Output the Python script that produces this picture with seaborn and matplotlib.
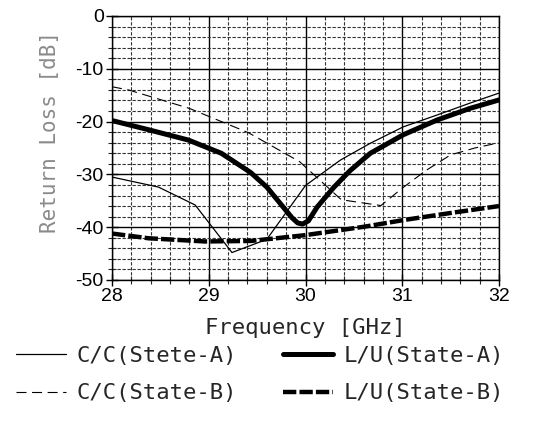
import numpy as np
import pandas as pd
import seaborn as sns
import matplotlib.pyplot as plt
from matplotlib.ticker import MultipleLocator

# C/C (Stete-A) - thin solid
cc_a_freq = [28.0, 28.48, 28.86, 29.24, 29.6, 30.0, 30.36, 30.67, 31.01, 31.36, 31.7, 32.0]
cc_a_rl = [-30.5, -32.4, -35.8, -44.8, -42.3, -32.1, -27.3, -24.1, -21.0, -18.75, -16.5, -14.6]

# C/C (State-B) - thin dashed
cc_b_freq = [28.0, 28.17, 28.8, 29.41, 29.94, 30.37, 30.78, 31.0, 31.25, 31.5, 31.75, 32.0]
cc_b_rl = [-13.4, -14.0, -17.5, -22.1, -27.6, -34.8, -35.9, -32.6, -29.2, -26.3, -25.0, -24.0]

# L/U (State-A) - thick solid
lu_a_freq = [28.0, 28.39, 28.79, 29.13, 29.43, 29.6, 29.77, 29.86, 29.92, 29.97, 30.03,
             30.12, 30.29, 30.46, 30.67, 31.01, 31.36, 31.7, 32.0]
lu_a_rl = [-19.8, -21.6, -23.5, -26.0, -29.6, -32.4, -36.2, -38.2, -39.2, -39.4, -38.8,
           -36.2, -32.5, -29.3, -26.0, -22.5, -19.7, -17.5, -15.9]

# L/U (State-B) - thick dashed
lu_b_freq = [28.0, 28.38, 28.96, 29.44, 30.0, 30.61, 31.03, 31.54, 32.0]
lu_b_rl = [-41.2, -42.1, -42.7, -42.6, -41.5, -39.9, -38.6, -37.2, -36.0]

labels = ["C/C(Stete-A)", "C/C(State-B)", "L/U(State-A)", "L/U(State-B)"]

sns.set_style("white")
plt.rcParams['font.family'] = ['Liberation Sans', 'DejaVu Sans']
plt.rcParams['axes.unicode_minus'] = False

fig = plt.figure(figsize=(5.39, 4.25), dpi=100)
ax = fig.add_axes([112 / 539, 1 - 280 / 425, 387 / 539, 264 / 425])

series = [
    (cc_a_freq, cc_a_rl, 0.9, '-'),
    (cc_b_freq, cc_b_rl, 0.8, (0, (9, 5))),
    (lu_a_freq, lu_a_rl, 3.6, '-'),
    (lu_b_freq, lu_b_rl, 3.2, (0, (3.0, 0.7))),
]
for (fx, fy, lw, ls), lab in zip(series, labels):
    d = pd.DataFrame({"f": fx, "rl": fy})
    sns.lineplot(data=d, x="f", y="rl", ax=ax, color="black", linewidth=lw,
                 linestyle=ls, label=lab, sort=False, zorder=3)

ax.set_xlim(28, 32)
ax.set_ylim(-50, 0)
ax.xaxis.set_major_locator(MultipleLocator(1))
ax.xaxis.set_minor_locator(MultipleLocator(0.2))
ax.yaxis.set_major_locator(MultipleLocator(10))
ax.yaxis.set_minor_locator(MultipleLocator(2))
ax.grid(which='major', color='black', linewidth=1.0, linestyle='-')
ax.grid(which='minor', color='#333333', linewidth=0.8, linestyle=(0, (3, 1.5)))
ax.set_axisbelow(True)
for s in ax.spines.values():
    s.set_color('black')
    s.set_linewidth(1.0)

ax.tick_params(which='major', direction='inout', length=8, width=1, labelsize=14,
               colors='black', left=True, bottom=True, pad=2)
ax.tick_params(which='minor', direction='inout', length=6, width=0.8,
               left=True, bottom=True)

ax.set_xlabel("Frequency [GHz]", family='DejaVu Sans Mono', fontsize=16, labelpad=9)
ax.set_ylabel("Return Loss [dB]", family='DejaVu Sans Mono', fontsize=15,
              color='#8a8a8a')
ax.yaxis.set_label_coords(-0.135, 0.56)

handles, labs = ax.get_legend_handles_labels()
ax.get_legend().remove()
fig.legend(handles, labs, ncol=2, loc='upper left', bbox_to_anchor=(0.03, 0.186),
           frameon=False, prop={'family': 'DejaVu Sans Mono', 'size': 16},
           handlelength=2.25, handletextpad=0.45, columnspacing=2.1,
           labelspacing=0.78, borderaxespad=0, borderpad=0)

fig.savefig("out.png", dpi=100)
